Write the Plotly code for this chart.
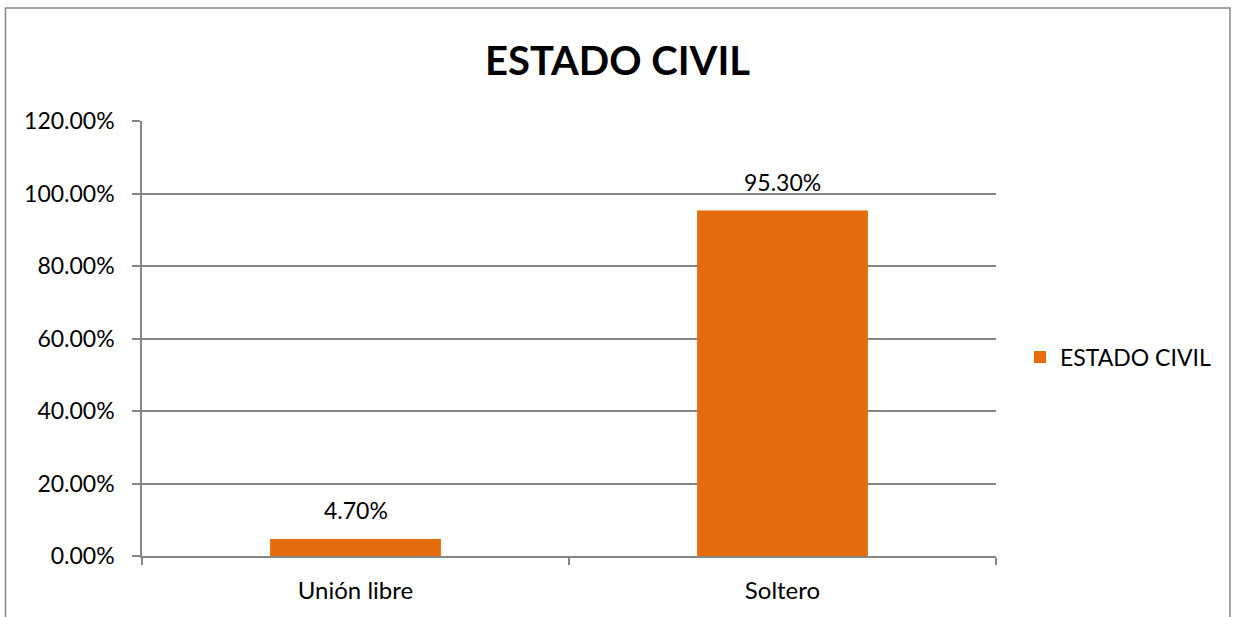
import plotly.graph_objects as go

categories = ["Unión libre", "Soltero"]
values = [0.047, 0.953]
value_labels = ["4.70%", "95.30%"]
series_name = "ESTADO CIVIL"
title_text = "ESTADO CIVIL"

BAR = "#E46C0A"
GRID = "#868686"
FONT = "Lato, Open Sans, sans-serif"

fig = go.Figure()
fig.add_trace(go.Bar(
    x=categories, y=values, name=series_name,
    marker=dict(color=BAR, line=dict(width=0)),
    showlegend=True,
))

for c, v, t in zip(categories, values, value_labels):
    fig.add_annotation(x=c, y=v, text=t, showarrow=False, yanchor="bottom",
                       yshift=13, font=dict(size=23, color="#000000", family=FONT))

W, H = 1235, 617
L, R, T, B = 142, 239, 121, 61
pw, ph = W - L - R, H - T - B
def px_to_paper_x(px):
    return (px - L) / pw
def px_to_paper_y(py):
    return (H - B - py) / ph

fig.add_shape(type="rect", xref="paper", yref="paper",
              x0=px_to_paper_x(5.5), x1=px_to_paper_x(1230),
              y0=px_to_paper_y(640), y1=px_to_paper_y(8),
              line=dict(color="#868686", width=1.5), fillcolor="rgba(0,0,0,0)", layer="below")

fig.update_layout(
    width=W, height=H,
    margin=dict(l=L, r=R, t=T, b=B),
    paper_bgcolor="white", plot_bgcolor="white",
    font=dict(family=FONT, size=23, color="#000000"),
    title=dict(text="<b>" + title_text + "</b>", x=0.5, xref="container", xanchor="center",
               y=1 - 61 / H, yref="container", yanchor="middle",
               font=dict(size=40, family=FONT, color="#000000")),
    bargap=0.6,
    legend=dict(x=px_to_paper_x(1020), y=px_to_paper_y(357), xanchor="left", yanchor="middle",
                font=dict(size=23, family=FONT), bgcolor="rgba(0,0,0,0)"),
    xaxis=dict(showgrid=False, showline=True, linecolor=GRID, linewidth=1.5,
               ticks="outside", tickson="boundaries", ticklen=7, tickcolor=GRID, tickwidth=1.5,
               ticklabelstandoff=12, tickfont=dict(size=24)),
    yaxis=dict(range=[0, 1.2], dtick=0.2, tick0=0, tickformat=".2%",
               showgrid=True, gridcolor=GRID, gridwidth=1.5,
               showline=True, linecolor=GRID, linewidth=1.5,
               ticks="outside", ticklen=8, tickcolor=GRID, tickwidth=1.5,
               ticklabelstandoff=13, tickfont=dict(size=23), zeroline=False),
)

fig.write_html("out.html", config={"displayModeBar": False},
               post_script="document.body.style.margin='0';document.body.style.padding='0';")
